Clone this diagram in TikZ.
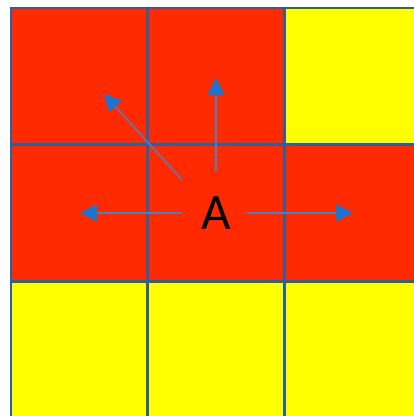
\documentclass[tikz,border=0pt]{standalone}
\usepackage{fontspec}
\setmainfont{Carlito}
\usetikzlibrary{arrows.meta}
\definecolor{CellRed}{HTML}{FF2A00}
\definecolor{CellYellow}{HTML}{FFFF00}
\definecolor{GridBlue}{HTML}{2E5E9C}
\definecolor{ShaftBlue}{HTML}{4A7EC5}
\definecolor{TipBlue}{HTML}{1C76D0}

\begin{document}
\begin{tikzpicture}[
x=1pt, y=-1pt,
cell/.style={draw=GridBlue, line width=2.6pt},
arrow/.style={-{Triangle[length=17pt, width=17pt, color=TipBlue, fill=TipBlue]}, ShaftBlue, line width=1.5pt},
label/.style={font=\fontsize{51}{51}\selectfont, text=black, inner sep=0pt}
]
\useasboundingbox (0,0) rectangle (414,416);
\clip (0,0) rectangle (414,416);
% cells: column/row/colour
\foreach \col/\row/\fc in {0/0/CellRed, 1/0/CellRed, 2/0/CellYellow,
                           0/1/CellRed, 1/1/CellRed, 2/1/CellRed,
                           0/2/CellYellow, 1/2/CellYellow, 2/2/CellYellow}
  \filldraw[cell, fill=\fc] ({11+136.67*\col},{8+136.67*\row}) rectangle ++(136.67,136.67);
\node[label] (A) at (216,213) {A};
% arrow ends
\coordinate (upS) at (216,172);    \coordinate (upT) at (216,78);
\coordinate (leftS) at (182,213);  \coordinate (leftT) at (80,213);
\coordinate (rightS) at (247,213); \coordinate (rightT) at (353,213);
\coordinate (diagS) at (182,180);  \coordinate (diagT) at (104,94);
\draw[arrow] (upS) -- (upT);
\draw[arrow] (leftS) -- (leftT);
\draw[arrow] (rightS) -- (rightT);
\draw[arrow] (diagS) -- (diagT);
\end{tikzpicture}
\end{document}
